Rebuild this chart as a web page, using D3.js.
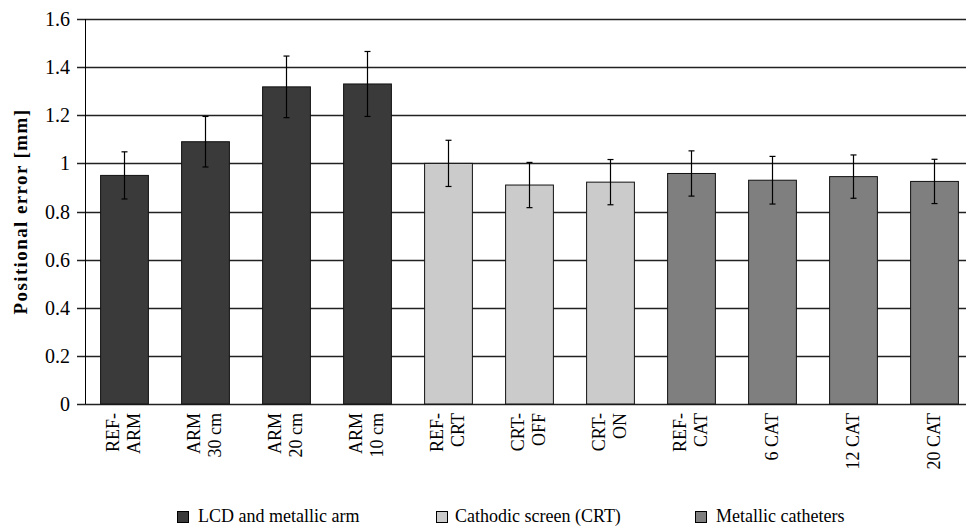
<!DOCTYPE html>
<html>
<head>
<meta charset="utf-8">
<script src="https://cdn.jsdelivr.net/npm/d3@7"></script>
<style>
  body { margin: 0; background: #fff; }
  text { font-family: "Liberation Serif", "DejaVu Serif", serif; fill: #000; }
</style>
</head>
<body>
<div id="chart"></div>
<script>
const categories = ['REF-\nARM', 'ARM\n30 cm', 'ARM\n20 cm', 'ARM\n10 cm', 'REF-\nCRT', 'CRT-\nOFF', 'CRT-\nON', 'REF-\nCAT', '6 CAT', '12 CAT', '20 CAT'];
const groups = ['arm', 'arm', 'arm', 'arm', 'crt', 'crt', 'crt', 'cat', 'cat', 'cat', 'cat'];
const means = [0.95, 1.09, 1.318, 1.33, 1.0, 0.91, 0.922, 0.958, 0.93, 0.945, 0.925];
const errors = [0.098, 0.105, 0.128, 0.135, 0.096, 0.094, 0.094, 0.094, 0.099, 0.09, 0.092];
const yTicks = [0, 0.2, 0.4, 0.6, 0.8, 1, 1.2, 1.4, 1.6];
const legendKeys = ['arm', 'crt', 'cat'];
const legendLabels = ['LCD and metallic arm', 'Cathodic screen (CRT)', 'Metallic catheters'];

const width = 966, height = 528;
const margin = {top: 19, left: 85, bottom: 124};

const color = d3.scaleOrdinal()
    .domain(legendKeys)
    .range(['#3a3a3a', '#cbcbcb', '#7f7f7f']);

const svg = d3.select('#chart')
    .append('svg')
    .attr('width', width)
    .attr('height', height);

const x = d3.scaleBand()
    .domain(categories)
    .range([margin.left - 1, margin.left - 1 + 11 * 81])
    .paddingInner(0.41)
    .paddingOuter(0.205);

const y = d3.scaleLinear()
    .domain([0, 1.6])
    .range([height - margin.bottom, margin.top]);

// gridlines + ticks
svg.append('g')
    .selectAll('line')
    .data(yTicks)
    .enter()
    .append('line')
    .attr('x1', margin.left - 8)
    .attr('x2', width)
    .attr('y1', d => Math.round(y(d)) + 0.5)
    .attr('y2', d => Math.round(y(d)) + 0.5)
    .attr('stroke', '#222')
    .attr('stroke-width', 1.4);

svg.append('g')
    .selectAll('text')
    .data(yTicks)
    .enter()
    .append('text')
    .attr('x', margin.left - 15)
    .attr('y', d => y(d))
    .attr('dy', '0.35em')
    .attr('text-anchor', 'end')
    .style('font-size', '20px')
    .text(d => String(+d.toFixed(1)));

svg.append('line')
    .attr('x1', margin.left + 0.5)
    .attr('x2', margin.left + 0.5)
    .attr('y1', y(1.6))
    .attr('y2', y(0))
    .attr('stroke', '#000')
    .attr('stroke-width', 1);

svg.append('text')
    .attr('transform', `translate(20, ${(y(0) + y(1.6)) / 2}) rotate(-90)`)
    .attr('dy', '0.35em')
    .attr('text-anchor', 'middle')
    .style('font-size', '19px')
    .style('font-weight', 'bold')
    .style('letter-spacing', '1.4px')
    .text('Positional error [mm]');

// bars
svg.append('g')
    .selectAll('rect')
    .data(categories)
    .enter()
    .append('rect')
    .attr('x', d => x(d))
    .attr('y', (d, i) => y(means[i]))
    .attr('width', x.bandwidth())
    .attr('height', (d, i) => y(0) - y(means[i]))
    .attr('fill', (d, i) => color(groups[i]))
    .attr('stroke', '#111')
    .attr('stroke-width', 1);

// error bars
const err = svg.append('g')
    .selectAll('g')
    .data(categories)
    .enter()
    .append('g')
    .attr('stroke', '#000')
    .attr('stroke-width', 1.2);

err.append('line')
    .attr('x1', d => x(d) + x.bandwidth() / 2)
    .attr('x2', d => x(d) + x.bandwidth() / 2)
    .attr('y1', (d, i) => y(means[i] + errors[i]))
    .attr('y2', (d, i) => y(means[i] - errors[i]));

err.selectAll('.cap')
    .data((d, i) => [[d, means[i] + errors[i]], [d, means[i] - errors[i]]])
    .enter()
    .append('line')
    .attr('class', 'cap')
    .attr('x1', d => x(d[0]) + x.bandwidth() / 2 - 3)
    .attr('x2', d => x(d[0]) + x.bandwidth() / 2 + 3)
    .attr('y1', d => y(d[1]))
    .attr('y2', d => y(d[1]));

// category labels, rotated
const labels = svg.append('g')
    .selectAll('text')
    .data(categories)
    .enter()
    .append('text')
    .attr('transform', d => `translate(${x(d) + x.bandwidth() / 2 - 1}, 413) rotate(-90)`)
    .attr('text-anchor', 'end')
    .style('font-size', '18px');

labels.each(function (d) {
  const lines = d.split('\n');
  const sel = d3.select(this);
  lines.forEach((line, j) => {
    sel.append('tspan')
        .attr('x', 0)
        .attr('y', (j - (lines.length - 1) / 2) * 21 + 6)
        .text(line);
  });
});

// legend
const legendX = [177, 436, 695];
const legend = svg.append('g')
    .selectAll('g')
    .data(legendKeys)
    .enter()
    .append('g')
    .attr('transform', (d, i) => `translate(${legendX[i]}, 511)`);

legend.append('rect')
    .attr('x', 0.5)
    .attr('y', 0.5)
    .attr('width', 11)
    .attr('height', 11)
    .attr('fill', d => color(d))
    .attr('stroke', '#000');

legend.append('text')
    .attr('x', (d, i) => i === 1 ? 19 : 21)
    .attr('y', 11)
    .style('font-size', '18px')
    .text((d, i) => legendLabels[i]);
</script>
</body>
</html>
